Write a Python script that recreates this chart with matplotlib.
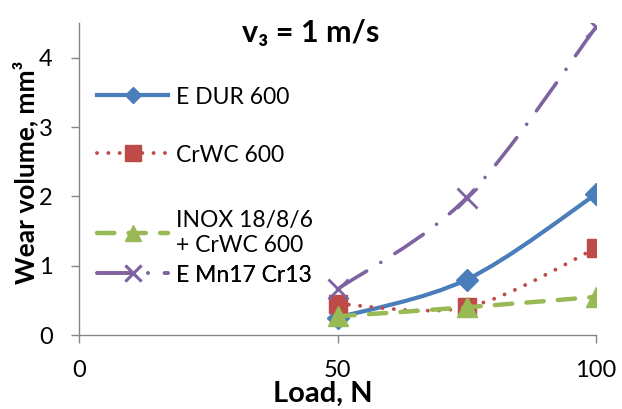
import matplotlib
matplotlib.use("Agg")
import matplotlib.pyplot as plt
import numpy as np
from matplotlib.path import Path
from matplotlib.patches import PathPatch
from matplotlib.lines import Line2D

plt.rcParams['font.family'] = ['Lato', 'DejaVu Sans']

# data
load = [50, 75, 100]
e_dur = [0.25, 0.80, 2.03]
crwc = [0.45, 0.40, 1.25]
inox = [0.27, 0.40, 0.55]
e_mn = [0.66, 1.98, 4.44]

labels = ['E DUR 600', 'CrWC 600', 'INOX 18/8/6\n+ CrWC 600', 'E Mn17 Cr13']
colors = ['#4A7EBB', '#BE4B48', '#98B954', '#7F63A1']
markers = ['D', 's', '^', 'x']
msizes = [11, 13, 14, 14]
leg_msizes = [8, 11, 11, 11]
lws = [3.0, 2.8, 3.2, 2.6]
styles = ['-', (0, (0.01, 2.9)), (0, (3.9, 3.2)), (0, (9.5, 4.6, 0.01, 4.6))]


def smooth_path(x, y):
    # Excel-like smoothed line as cubic Bezier segments
    p = np.column_stack([x, y]).astype(float)
    n = len(p)
    verts = [p[0]]
    codes = [Path.MOVETO]
    for i in range(n - 1):
        prev = p[i - 1] if i > 0 else p[i]
        nxt = p[i + 2] if i + 2 < n else p[i + 1]
        c1 = p[i] + (p[i + 1] - prev) / 6.0
        c2 = p[i + 1] - (nxt - p[i]) / 6.0
        verts += [c1, c2, p[i + 1]]
        codes += [Path.CURVE4] * 3
    return Path(verts, codes)


fig = plt.figure(figsize=(6.22, 4.09), dpi=100)
ax = fig.add_axes([79 / 622, 1 - 335 / 409, (596 - 79) / 622, (335 - 23) / 409])

series = [e_dur, crwc, inox, e_mn]
handles = []
for k, yv in enumerate(series):
    patch = PathPatch(smooth_path(load, yv), fill=False, edgecolor=colors[k],
                      lw=lws[k], linestyle=styles[k], capstyle='round',
                      zorder=2 + 2 * k)
    ax.add_patch(patch)
    mew = 2.0 if markers[k] == 'x' else 1
    ax.plot(load, yv, linestyle='none', marker=markers[k], ms=msizes[k],
            color=colors[k], mew=mew, zorder=3 + 2 * k)
    handles.append(Line2D([], [], color=colors[k], lw=lws[k], linestyle=styles[k],
                          dash_capstyle='round', marker=markers[k],
                          ms=leg_msizes[k], mew=mew))

ax.set_xlim(0, 100)
ax.set_ylim(0, 4.5)
ax.set_xticks([0, 50, 100])
ax.set_yticks([0, 1, 2, 3, 4])
for s in ['top', 'right']:
    ax.spines[s].set_visible(False)
for s in ['left', 'bottom']:
    ax.spines[s].set_color('#868686')
    ax.spines[s].set_linewidth(1.0)
ax.tick_params(axis='x', colors='#868686', labelcolor='black', length=6,
               width=1, pad=12, labelsize=17)
ax.tick_params(axis='y', colors='#868686', labelcolor='black', length=6,
               width=1, pad=13, labelsize=17)

# legend entries placed like the original
leg_y = [97, 155, 233, 275]
for k in range(4):
    lg = ax.legend([handles[k]], [labels[k]], loc='center left',
                   bbox_to_anchor=(97 / 622, 1 - leg_y[k] / 409),
                   bbox_transform=fig.transFigure, frameon=False,
                   borderpad=0, borderaxespad=0, handlelength=3.1,
                   handletextpad=0.35, fontsize=16.5)
    ax.add_artist(lg)

fig.text(311 / 622, 1 - 33 / 409, 'v\u2083 = 1 m/s', ha='center', va='center',
         fontsize=22, fontweight='bold')
fig.text(25 / 622, 1 - 172 / 409, 'Wear volume, mm\u00b3', rotation=90,
         ha='center', va='center', fontsize=19, fontweight='bold')
fig.text(323 / 622, 1 - 394 / 409, 'Load, N', ha='center', va='center',
         fontsize=21, fontweight='bold')

fig.savefig('out.png', dpi=100)
